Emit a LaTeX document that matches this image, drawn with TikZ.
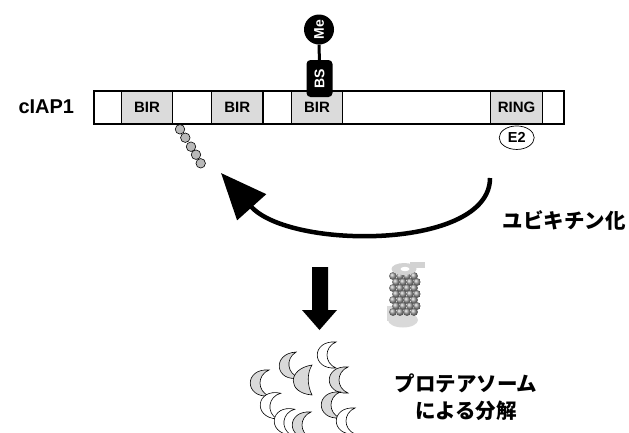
\documentclass[tikz,border=0pt]{standalone}
\usepackage{fontspec}
\setmainfont{Liberation Sans}
\newfontfamily\jpfont{Noto Sans CJK JP}
\usetikzlibrary{arrows.meta,shapes.geometric}
\begin{document}
\begin{tikzpicture}[x=1pt,y=-1pt,font=\bfseries,
  dom/.style={draw,line width=1.1pt,fill=gray!28,minimum height=33pt,inner sep=0pt,font=\fontsize{15}{16}\bfseries},
  tag/.style={fill=black,text=white,inner sep=0pt,rotate=90,font=\fontsize{14}{15}\bfseries},
  bead/.style={circle,draw,line width=.6pt,fill=gray!55,minimum size=9.5pt,inner sep=0pt},
  moon/.style={draw,line width=.6pt},
  jp/.style={font=\jpfont\fontsize{20.5}{27}\bfseries,align=center}]
\useasboundingbox (0,0) rectangle (629,432);
% protein bar and its domains
\node[anchor=west,font=\fontsize{20}{21}\bfseries] (ciap) at (15,107) {cIAP1};
\draw[line width=1.1pt] (94,91) rectangle (564,124);
\node[dom,minimum width=51pt] (bir1) at (147,107.5) {BIR};
\node[dom,minimum width=51.5pt] (bir2) at (237.25,107.5) {BIR};
\node[dom,minimum width=51pt] (bir3) at (317,107.5) {BIR};
\node[dom,minimum width=52pt] (ring) at (516.5,107.5) {RING};
\node[ellipse,draw,line width=.7pt,fill=white,minimum width=35pt,minimum height=23.5pt,inner sep=0pt,font=\fontsize{14.5}{15}\bfseries] (e2) at (516.7,137.7) {E2};
% methylated binding site on the third BIR
\node[tag,rounded corners=4pt,minimum width=37pt,minimum height=26pt] (bs) at (319.5,78.5) {BS};
\node[tag,circle,minimum size=30pt] (me) at (319,29.5) {Me};
\draw[line width=3pt] (me) -- (bs);
% ubiquitin chain
\foreach \i/\x/\y in {1/180/129.3,2/185.3/137.7,3/191/146.7,4/196/154.7,5/200.7/163.3}
  \node[bead] (ub\i) at (\x,\y) {};
\coordinate (ubS) at (490,178);
\coordinate (ubE) at (221,173);
\draw[line width=4.5pt,-{Triangle[length=46pt,width=38pt]}] (ubS) .. controls (490,250) and (290,250) .. (ubE);
\node[jp,anchor=west] (ubq) at (499,220) {ユビキチン化};
% arrow down to the proteasome
\fill (312,267) -- (328,267) -- (328,310) -- (337,310) -- (319.5,330) -- (302,310) -- (312,310) -- cycle;
% proteasome
\fill[gray!30] (403,320) ellipse (15 and 7.5);
\fill[gray!30] (387,306) rectangle (393,321);
\foreach \j in {0,...,6}{
  \pgfmathsetmacro\off{mod(\j,2)*3}
  \foreach \i in {0,...,3}
    \shade[ball color=gray!75] (393+\off+7*\i,276+6*\j) circle (3.9);
}
\fill[gray!35] (404,269) ellipse (12.5 and 6);
\fill[gray!35] (410,262) rectangle (425,268);
\fill[white] (405,269) ellipse (4.5 and 2.2);
% fragments
\foreach \x/\y/\r/\c in {328/355/0/white,290/366/8/gray!30,261/383/0/gray!30,340/380/0/gray!30,
    271/405/-8/white,285/421/-8/white,303/425/0/gray!30,332/405/0/gray!30,347/421/0/white}
  \draw[moon,fill=\c,shift={(\x,\y)},rotate=\r] (8,-13) .. controls (-17,-15) and (-17,15) .. (8,13) .. controls (-4,8) and (-4,-8) .. (8,-13) -- cycle;
\draw[moon,fill=gray!30,shift={(303,379)}] (9,-14) .. controls (-16,-10) and (-16,14) .. (9,16) .. controls (4,6) and (4,-6) .. (9,-14) -- cycle;
\node[jp] (prot) at (466,397) {プロテアソーム\\による分解};
\end{tikzpicture}
\end{document}
